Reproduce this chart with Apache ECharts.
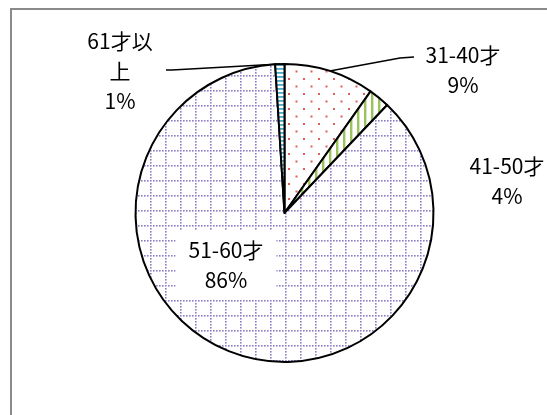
<!DOCTYPE html>
<html lang="ja">
<head>
<meta charset="UTF-8">
<title>年齢構成</title>
<script src="https://cdn.jsdelivr.net/npm/echarts@6/dist/echarts.min.js"></script>
<style>
  html, body { margin: 0; padding: 0; background: #fff; }
  #main { width: 547px; height: 415px; }
</style>
</head>
<body>
<div id="main"></div>
<script>
// 年齢区分と割合（扇形の大きさは図から読み取り、ラベルは表示値）
var categories = ['31-40才', '41-50才', '51-60才', '61才以上'];
var values = [9.8, 2.3, 86.9, 1.0];
var pctLabels = ['9%', '4%', '86%', '1%'];

// ラベルの置き場所（中心座標）
var labelPos = [
  { x: 463, y: 70 },
  { x: 507, y: 181 },
  { x: 226, y: 265 },
  { x: 120, y: 71 }
];
// 引き出し線の折れ点
var linePts = [
  [[400, 58], [414, 57]],
  null,
  null,
  [[172, 70], [166, 70]]
];

function makePattern(w, h, draw) {
  var c = document.createElement('canvas');
  c.width = w; c.height = h;
  var ctx = c.getContext('2d');
  ctx.fillStyle = '#fff';
  ctx.fillRect(0, 0, w, h);
  draw(ctx);
  return { image: c, repeat: 'repeat' };
}

// 赤い点
var redDots = makePattern(15, 15, function (ctx) {
  ctx.fillStyle = '#df5f5a';
  ctx.fillRect(3, 3, 2, 2);
  ctx.fillRect(10.5, 10.5, 2, 2);
});
// 緑の縦じま
var greenStripes = makePattern(7, 7, function (ctx) {
  ctx.fillStyle = '#9bc35a';
  ctx.fillRect(0, 0, 2.4, 7);
});
// 紫の点線格子
var purpleGrid = makePattern(15, 15, function (ctx) {
  ctx.fillStyle = '#8f7cc4';
  for (var i = 0; i < 5; i++) {
    ctx.fillRect(i * 3, 0, 1.6, 1.6);
    if (i > 0) ctx.fillRect(0, i * 3, 1.6, 1.6);
  }
});
// 青の横じま
var blueStripes = makePattern(4, 4, function (ctx) {
  ctx.fillStyle = '#4bacc6';
  ctx.fillRect(0, 0, 4, 1.8);
});
var fills = [redDots, greenStripes, purpleGrid, blueStripes];

var data = categories.map(function (name, i) {
  var item = {
    name: name,
    value: values[i],
    itemStyle: { color: fills[i] }
  };
  if (i === 1 || i === 2) item.labelLine = { show: false };
  if (i === 2) {
    item.label = { backgroundColor: '#fff', padding: [5, 13] };
  }
  if (i === 3) {
    item.label = { width: 72, overflow: 'break' };
  }
  return item;
});

var myChart = echarts.init(document.getElementById('main'));
myChart.setOption({
  animation: false,
  graphic: [{
    type: 'rect',
    shape: { x: 11, y: 9, width: 600, height: 500 },
    style: { fill: 'none', stroke: '#8a8a8a', lineWidth: 2 },
    silent: true
  }],
  series: [{
    type: 'pie',
    center: [284.5, 213],
    radius: 149,
    startAngle: 90,
    clockwise: true,
    avoidLabelOverlap: false,
    emphasis: { disabled: true },
    itemStyle: { borderColor: '#000', borderWidth: 2 },
    label: {
      show: true,
      position: 'outside',
      color: '#000',
      fontFamily: '"Noto Sans CJK JP", sans-serif',
      fontSize: 21,
      lineHeight: 30,
      align: 'center',
      formatter: function (p) {
        return p.name + '\n' + pctLabels[p.dataIndex];
      }
    },
    labelLine: {
      show: true,
      lineStyle: { color: '#000', width: 1.5 }
    },
    labelLayout: function (p) {
      var i = p.dataIndex;
      var out = {
        x: labelPos[i].x,
        y: labelPos[i].y,
        align: 'center',
        verticalAlign: 'middle'
      };
      if (linePts[i] && p.labelLinePoints) {
        out.labelLinePoints = [p.labelLinePoints[0], linePts[i][0], linePts[i][1]];
      }
      return out;
    },
    data: data
  }]
});
</script>
</body>
</html>
